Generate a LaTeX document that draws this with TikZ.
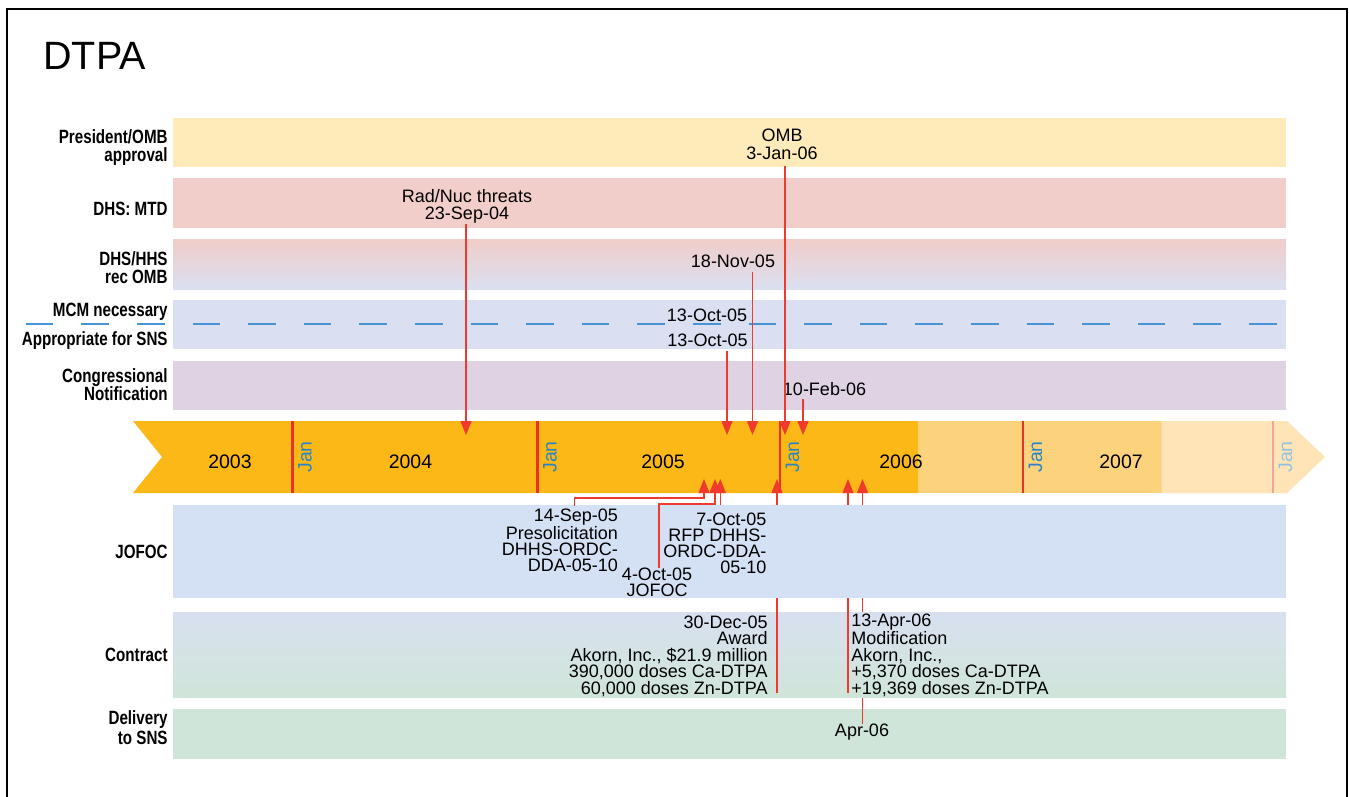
\documentclass[tikz,border=0pt]{standalone}
\usepackage{fontspec}
\setmainfont{Liberation Sans}
\newfontfamily\narrowsans[FakeStretch=0.79]{Liberation Sans}
\usetikzlibrary{arrows.meta}
\definecolor{tlred}{HTML}{EE3B2E}
\definecolor{janred}{HTML}{E8332A}
\definecolor{janblue}{HTML}{2A85C4}
\definecolor{dashblue}{HTML}{4A93D3}
\definecolor{ombband}{HTML}{FFEBBA}
\definecolor{mtdband}{HTML}{F2CECB}
\definecolor{recband}{HTML}{F0CDC9}
\definecolor{mcmband}{HTML}{DAE0F1}
\definecolor{congband}{HTML}{DFD3E3}
\definecolor{jofocband}{HTML}{D4E0F3}
\definecolor{contrtop}{HTML}{D8E0F0}
\definecolor{contrbot}{HTML}{D0E5D9}
\definecolor{delivband}{HTML}{CFE5DA}
\definecolor{yrdark}{HTML}{FBB817}
\definecolor{yrmid}{HTML}{FDD27D}
\definecolor{yrlight}{HTML}{FEE4B7}
\tikzset{
  rowlabel/.style={font=\narrowsans\bfseries\fontsize{9.6}{9}\selectfont, align=right, anchor=base east, inner sep=0pt},
  evt/.style={font=\fontsize{9}{8.6}\selectfont, inner sep=0pt, align=center, anchor=base},
  blk/.style={font=\fontsize{9}{7.95}\selectfont, inner sep=0pt},
  year/.style={font=\fontsize{9.75}{10}\selectfont, inner sep=0pt},
  jan/.style={font=\fontsize{9.75}{10}\selectfont, text=janblue, rotate=90, inner sep=0pt},
  janline/.style={janred, line width=1.2pt},
  dn/.style={tlred, line width=0.7pt, -{Triangle[width=5.5pt,length=7pt]}},
  up/.style={tlred, line width=0.7pt, -{Triangle[width=5.5pt,length=7pt]}}
}
\begin{document}
\begin{tikzpicture}[x=0.5pt, y=-0.5pt]
\useasboundingbox (0,0) rectangle (1349,797);
\draw[line width=1pt] (7,810) -- (7,9) -- (1347,9) -- (1347,810);
\node[font=\fontsize{19.75}{20}\selectfont, anchor=base west, inner sep=0pt] (title) at (43,70) {DTPA};

% upper rows
\fill[ombband] (173,118) rectangle (1286,167);
\fill[mtdband] (173,178) rectangle (1286,228);
\shade[top color=recband, bottom color=mcmband] (173,239) rectangle (1286,289);
\fill[mcmband] (173,300) rectangle (1286,349);
\fill[congband] (173,361) rectangle (1286,410);
\draw[dashblue, line width=1pt, dash pattern=on 13.85pt off 13.95pt] (25.7,324) -- (1278,324);

\node[rowlabel] (lomb) at (168,161.5) {President/OMB\\approval};
\node[rowlabel] (lmtd) at (168,215) {DHS: MTD};
\node[rowlabel] (lrec) at (168,283.3) {DHS/HHS\\rec OMB};
\node[rowlabel] (lmcm) at (168,316.7) {MCM necessary};
\node[rowlabel] (lsns) at (168,345) {Appropriate for SNS};
\node[rowlabel] (lcong) at (168,400.7) {Congressional\\Notification};

% year band
\fill[yrdark] (133,421) -- (918.5,421) -- (918.5,493) -- (133,493) -- (162,457) -- cycle;
\fill[yrmid] (918.5,421) rectangle (1161.5,493);
\fill[yrlight] (1161.5,421) -- (1287,421) -- (1325,457) -- (1287,493) -- (1161.5,493) -- cycle;
\foreach \jx [count=\i] in {292.5,537.5,780,1023} {
  \draw[janline] (\jx,421) -- (\jx,493);
  \node[jan] (jan\i) at (\jx+12.5,457) {Jan};
}
\draw[janred!45, line width=1pt] (1273,421) -- (1273,493);
\node[jan, text=janblue!50] (jan5) at (1285.5,457) {Jan};
\foreach \yx/\yr in {230/2003,410.5/2004,663/2005,901/2006,1121/2007}
  \node[year] (y\yr) at (\yx,462) {\yr};

% lower rows
\fill[delivband] (173,709) rectangle (1286,759);
\node[evt] (apr06) at (862,736.5) {Apr-06};
\coordinate (apr06-tip) at (862.5,479);
\draw[up] (apr06.north -| apr06-tip) -- (apr06-tip);

\shade[top color=contrtop, bottom color=contrbot] (173,612) rectangle (1286,697);
\node[blk, font=\fontsize{9}{8.2}\selectfont, align=right, anchor=base east] (dec30) at (768,694)
  {30-Dec-05\\Award\\Akorn, Inc., \$21.9 million\\390,000 doses Ca-DTPA\\60,000 doses Zn-DTPA};
\node[blk, font=\fontsize{9}{8.2}\selectfont, align=left, anchor=base west] (apr13) at (851,694)
  {13-Apr-06\\Modification\\Akorn, Inc.,\\+5,370 doses Ca-DTPA\\+19,369 doses Zn-DTPA};
\coordinate (dec30-tip) at (777,479);
\coordinate (apr13-tip) at (848,479);
\draw[up] ([yshift=2pt]dec30.south -| dec30-tip) -- (dec30-tip);
\draw[up] ([yshift=2pt]apr13.south -| apr13-tip) -- (apr13-tip);

\fill[jofocband] (173,505) rectangle (1286,598);
\node[blk, align=right, anchor=base east] (sep14) at (618.3,571.7)
  {14-Sep-05\\Presolicitation\\DHHS-ORDC-\\DDA-05-10};
\node[blk, align=center, anchor=base] (oct04) at (657,596.7) {4-Oct-05\\JOFOC};
\node[blk, align=right, anchor=base east] (oct07) at (766.7,573.3)
  {7-Oct-05\\RFP DHHS-\\ORDC-DDA-\\05-10};
\coordinate (sep14-bend) at (574.3,498);
\coordinate (sep14-tip) at (704,479);
\coordinate (oct04-bend) at (659,504);
\coordinate (oct04-tip) at (715,479);
\coordinate (oct07-tip) at (720.3,479);
\draw[up] ([yshift=1pt]sep14.north -| sep14-bend) -- (sep14-bend) -| (sep14-tip);
\draw[up] (oct04.north -| oct04-bend) -- (oct04-bend) -| (oct04-tip);
\draw[up] ([yshift=4pt]oct07.north -| oct07-tip) -- (oct07-tip);

\node[rowlabel] (ljofoc) at (168,558.5) {JOFOC};
\node[rowlabel] (lcontr) at (168,661.5) {Contract};
\node[rowlabel, font=\narrowsans\bfseries\fontsize{9.6}{7.4}\selectfont] (ldeliv) at (168,744) {Delivery\\to SNS};

% events above the band
\node[evt] (radnuc) at (467,220) {Rad/Nuc threats\\23-Sep-04};
\node[evt] (omb) at (782,159) {OMB\\3-Jan-06};
\node[evt] (nov18) at (733,267.7) {18-Nov-05};
\node[evt] (oct13a) at (707,321) {13-Oct-05};
\node[evt] (oct13b) at (707.5,346) {13-Oct-05};
\node[evt] (feb10) at (824.5,395) {10-Feb-06};
\coordinate (radnuc-tip) at (466,435);
\coordinate (omb-tip) at (785,435);
\coordinate (nov18-tip) at (752.5,435);
\coordinate (oct13-tip) at (727,435);
\coordinate (feb10-tip) at (803,435);
\draw[dn] (radnuc.south -| radnuc-tip) -- (radnuc-tip);
\draw[dn] ([yshift=-3pt]omb.south -| omb-tip) -- (omb-tip);
\draw[dn] ([yshift=-2pt]nov18.south -| nov18-tip) -- (nov18-tip);
\draw[dn] ([yshift=-2pt]oct13b.south -| oct13-tip) -- (oct13-tip);
\draw[dn] ([yshift=-1.5pt]feb10.south -| feb10-tip) -- (feb10-tip);
\end{tikzpicture}
\end{document}
